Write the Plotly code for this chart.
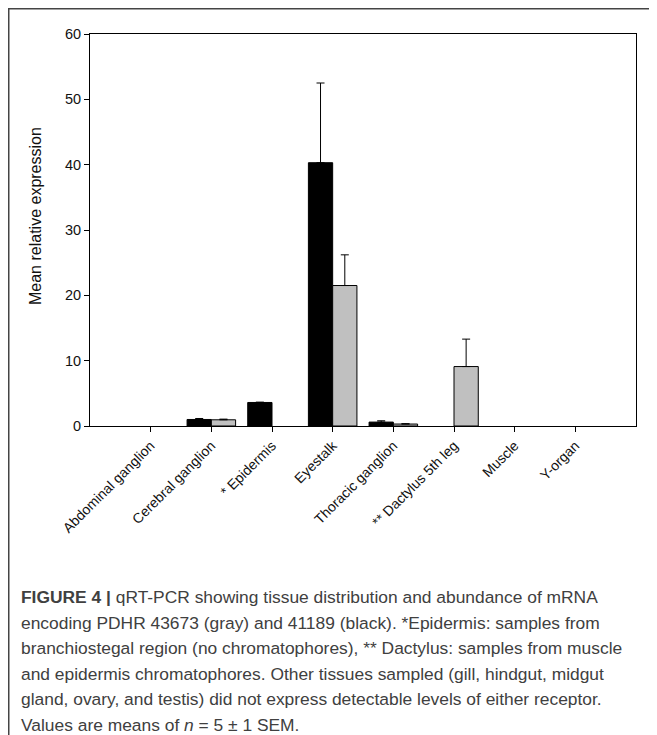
import plotly.graph_objects as go

categories = ["Abdominal ganglion", "Cerebral ganglion", "* Epidermis", "Eyestalk",
              "Thoracic ganglion", "** Dactylus 5th leg", "Muscle", "Y-organ"]
black_vals = [0, 1.0, 3.6, 40.3, 0.6, 0, 0, 0]
black_err = [0, 0.15, 0.05, 12.2, 0.2, 0, 0, 0]
gray_vals = [0, 0.95, 0, 21.5, 0.3, 9.1, 0, 0]
gray_err = [0, 0.1, 0, 4.7, 0.05, 4.2, 0, 0]
y_ticks = [0, 10, 20, 30, 40, 50, 60]

caption_lines = [
    "<b>FIGURE 4 |</b> qRT-PCR showing tissue distribution and abundance of mRNA",
    "encoding PDHR 43673 (gray) and 41189 (black). *Epidermis: samples from",
    "branchiostegal region (no chromatophores), ** Dactylus: samples from muscle",
    "and epidermis chromatophores. Other tissues sampled (gill, hindgut, midgut",
    "gland, ovary, and testis) did not express detectable levels of either receptor.",
    "Values are means of <i>n</i> = 5 \u00b1 1 SEM.",
]

# page body has an 8px margin; figure pixel = screen pixel - 8
OFF = 8
W, H = 657 - OFF, 735 - OFF
L, R, T, B = 90 - OFF, 657 - 636, 34 - OFF, 735 - 426
pw, ph = W - L - R, H - T - B

def px(x):
    return (x - OFF - L) / pw

def py(y):
    return (H - B - (y - OFF)) / ph

def nz(vals):
    # zero means "not detected": draw nothing
    return [v if v > 0 else None for v in vals]

def errs(vals, err):
    return [e if v > 0 else None for v, e in zip(vals, err)]

fig = go.Figure()
fig.add_trace(go.Bar(
    x=categories, y=nz(black_vals), name="41189",
    marker=dict(color="black", line=dict(color="black", width=1)),
    error_y=dict(type="data", array=errs(black_vals, black_err),
                 arrayminus=[0] * len(black_vals),
                 symmetric=False, color="black", thickness=1, width=4),
))
fig.add_trace(go.Bar(
    x=categories, y=nz(gray_vals), name="43673",
    marker=dict(color="#c0c0c0", line=dict(color="black", width=1)),
    error_y=dict(type="data", array=errs(gray_vals, gray_err),
                 arrayminus=[0] * len(gray_vals),
                 symmetric=False, color="black", thickness=1, width=4),
))

fig.update_layout(
    width=W, height=H,
    margin=dict(l=L, r=R, t=T, b=B),
    paper_bgcolor="white", plot_bgcolor="white",
    barmode="group", bargap=0.2, bargroupgap=0,
    showlegend=False,
    font=dict(family="Liberation Sans, Arial", color="black"),
    xaxis=dict(
        range=[-1, len(categories)],
        tickangle=-45, ticks="outside", ticklen=5, tickcolor="black",
        showline=True, linecolor="black", linewidth=1, mirror=True,
        tickfont=dict(size=14, family="Liberation Sans, Arial", color="#111111"),
        showgrid=False, zeroline=False,
    ),
    yaxis=dict(
        range=[0, 60], tickvals=y_ticks, ticks="outside", ticklen=5, tickcolor="black",
        showline=True, linecolor="black", linewidth=1, mirror=True,
        tickfont=dict(size=14.5, family="Liberation Sans, Arial", color="#111111"),
        showgrid=False, zeroline=False,
    ),
)

fig.add_annotation(text="Mean relative expression", xref="paper", yref="paper",
                   x=px(35), y=py(216), xanchor="center", yanchor="middle",
                   textangle=-90, showarrow=False,
                   font=dict(size=16, family="Liberation Sans, Arial", color="#111111"))

# outer frame lines (top and left)
fig.add_shape(type="line", xref="paper", yref="paper",
              x0=px(8), x1=px(670), y0=py(8.75), y1=py(8.75),
              line=dict(color="#444444", width=1.5))
fig.add_shape(type="line", xref="paper", yref="paper",
              x0=px(8.75), x1=px(8.75), y0=py(8), y1=py(745),
              line=dict(color="#444444", width=1.5))

line_y = [597, 622.5, 648, 673.5, 699, 724.5]
for txt, yy in zip(caption_lines, line_y):
    fig.add_annotation(text=txt, xref="paper", yref="paper",
                       x=px(19), y=py(yy), xanchor="left", yanchor="middle",
                       showarrow=False, align="left",
                       font=dict(size=17.4, family="Liberation Sans, Arial", color="#404040"))

fig.write_html("out.html")
